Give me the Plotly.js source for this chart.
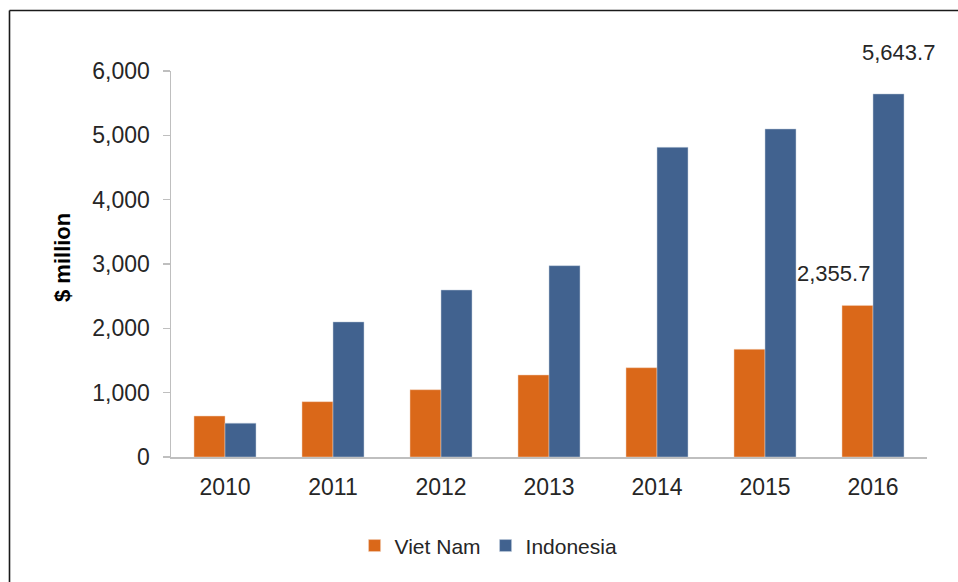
<!DOCTYPE html>
<html>
<head>
<meta charset="utf-8">
<script src="https://cdn.plot.ly/plotly-3.0.1.min.js"></script>
<style>
html,body{margin:0;padding:0;background:#fff;}
#chart{width:958px;height:582px;}
</style>
</head>
<body>
<div id="chart"></div>
<script>
var years = ['2010','2011','2012','2013','2014','2015','2016'];
var vietNam = [637, 860, 1046, 1275, 1388, 1674, 2355.7];
var indonesia = [526, 2100, 2596, 2974, 4814, 5099, 5643.7];
var yTickVals = [0, 1000, 2000, 3000, 4000, 5000, 6000];
var yTickText = ['0', '1,000', '2,000', '3,000', '4,000', '5,000', '6,000'];

function fmt(v){
  return v.toLocaleString('en-US', {minimumFractionDigits:1, maximumFractionDigits:1});
}

var font = 'Liberation Sans, Arial, sans-serif';
var txtColor = '#262626';
var last = years.length - 1;

var traces = [
  {type:'bar', name:'Viet Nam', x:years, y:vietNam,
   marker:{color:'#da6819', line:{color:'#f2d3bd', width:0.5}}},
  {type:'bar', name:'Indonesia', x:years, y:indonesia,
   marker:{color:'#41628f', line:{color:'#c5d0de', width:0.5}}}
];

var plotW = 958-171-31, plotH = 582-71-125;
function px(xp){ return (xp-171)/plotW; }
function py(yp){ return (582-125-yp)/plotH; }

var layout = {
  width:958, height:582,
  margin:{l:171, r:31, t:71, b:125},
  paper_bgcolor:'#ffffff', plot_bgcolor:'#ffffff',
  font:{family:font, size:22, color:txtColor},
  barmode:'group', bargap:0.426, bargroupgap:0,
  showlegend:true,
  legend:{orientation:'h', xref:'container', x:0.51, xanchor:'center',
          yref:'container', y:0.062, yanchor:'middle',
          font:{family:font, size:21, color:txtColor},
          itemwidth:30, traceorder:'normal'},
  xaxis:{type:'category', range:[-0.5, years.length-0.5], autorange:false,
         showline:true, linecolor:'#bfbfbf', linewidth:1.5,
         ticks:'', showgrid:false, zeroline:false, ticklabelstandoff:9,
         tickfont:{family:font, size:23, color:txtColor}},
  yaxis:{range:[0,6000], autorange:false, tickvals:yTickVals, ticktext:yTickText,
         showline:true, linecolor:'#bfbfbf', linewidth:1.5,
         ticks:'outside', ticklen:7, tickcolor:'#bfbfbf', tickwidth:1.5,
         showgrid:false, zeroline:false, ticklabelstandoff:8,
         tickfont:{family:font, size:23, color:txtColor}},
  annotations:[
    {x:last, y:indonesia[last], xref:'x', yref:'y', text:fmt(indonesia[last]),
     showarrow:false, xshift:25, yshift:41, yanchor:'middle', xanchor:'center',
     font:{family:font, size:22, color:txtColor}},
    {x:last, y:vietNam[last], xref:'x', yref:'y', text:fmt(vietNam[last]),
     showarrow:false, xshift:-40, yshift:32, yanchor:'middle', xanchor:'center',
     font:{family:font, size:22, color:txtColor}},
    {xref:'paper', yref:'paper', x:px(62), y:py(258), text:'<b>$ million</b>', textangle:-90,
     showarrow:false, xanchor:'center', yanchor:'middle',
     font:{family:font, size:22, color:'#000000'}}
  ],
  shapes:[
    {type:'line', xref:'paper', yref:'paper', x0:px(9.5), x1:px(960), y0:py(10.5), y1:py(10.5), line:{color:'#1a1a1a', width:1.6}, layer:'above'},
    {type:'line', xref:'paper', yref:'paper', x0:px(9.5), x1:px(9.5), y0:py(10.5), y1:py(590), line:{color:'#1a1a1a', width:1.6}, layer:'above'}
  ]
};

Plotly.newPlot('chart', traces, layout, {displayModeBar:false, staticPlot:true});
</script>
</body>
</html>
